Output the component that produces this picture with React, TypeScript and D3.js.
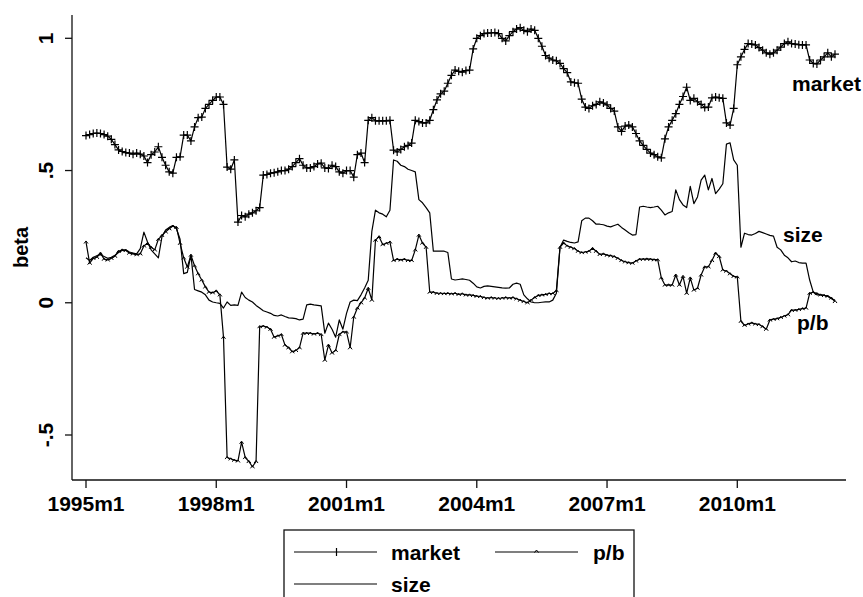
import React from "react";
import * as d3 from "d3";

// Monthly betas, 1995m1 .. 2012m4 (208 months)
const market: number[] = [
  0.632,0.636,0.640,0.642,0.640,0.636,0.630,0.618,0.598,0.578,
  0.572,0.568,0.566,0.562,0.566,0.562,0.555,0.530,0.560,0.570,
  0.590,0.550,0.520,0.495,0.490,0.550,0.552,0.634,0.634,0.612,
  0.665,0.700,0.702,0.735,0.750,0.765,0.778,0.778,0.750,0.513,
  0.505,0.540,0.305,0.330,0.325,0.335,0.340,0.348,0.360,0.483,
  0.485,0.490,0.492,0.495,0.500,0.500,0.505,0.515,0.530,0.545,
  0.520,0.510,0.510,0.515,0.525,0.528,0.510,0.508,0.520,0.515,
  0.495,0.490,0.500,0.500,0.475,0.560,0.566,0.530,0.690,0.700,
  0.688,0.688,0.688,0.688,0.690,0.577,0.570,0.580,0.590,0.595,
  0.604,0.690,0.685,0.680,0.680,0.690,0.730,0.767,0.790,0.800,
  0.830,0.860,0.880,0.875,0.872,0.878,0.880,0.960,1.000,1.010,
  1.018,1.020,1.020,1.022,1.018,1.000,0.990,1.010,1.025,1.035,
  1.040,1.030,1.025,1.035,1.030,1.000,0.970,0.935,0.925,0.918,
  0.915,0.905,0.885,0.870,0.835,0.832,0.830,0.770,0.740,0.735,
  0.745,0.750,0.760,0.755,0.748,0.735,0.725,0.665,0.648,0.668,
  0.672,0.665,0.640,0.612,0.595,0.580,0.566,0.560,0.552,0.548,
  0.620,0.665,0.690,0.715,0.750,0.780,0.815,0.765,0.773,0.760,
  0.750,0.738,0.740,0.775,0.778,0.775,0.773,0.680,0.672,0.735,
  0.900,0.930,0.958,0.980,0.978,0.975,0.965,0.955,0.945,0.940,
  0.945,0.955,0.967,0.980,0.987,0.980,0.978,0.976,0.975,0.975,
  0.918,0.905,0.903,0.918,0.930,0.945,0.930,0.940,
];

const pb: number[] = [
  0.230,0.150,0.168,0.172,0.188,0.165,0.162,0.168,0.176,0.195,
  0.200,0.198,0.188,0.185,0.182,0.185,0.215,0.225,0.210,0.200,
  0.240,0.255,0.268,0.280,0.290,0.285,0.225,0.170,0.135,0.180,
  0.140,0.110,0.086,0.060,0.040,0.038,0.045,0.030,-0.130,-0.585,
  -0.590,-0.595,-0.598,-0.527,-0.585,-0.600,-0.620,-0.600,-0.090,-0.088,
  -0.092,-0.100,-0.130,-0.125,-0.120,-0.160,-0.170,-0.185,-0.180,-0.170,
  -0.115,-0.115,-0.115,-0.118,-0.115,-0.120,-0.217,-0.160,-0.190,-0.180,
  -0.120,-0.110,-0.110,-0.170,-0.054,-0.020,0.000,0.018,0.055,0.010,
  0.237,0.250,0.220,0.225,0.230,0.160,0.165,0.162,0.165,0.160,
  0.160,0.200,0.256,0.226,0.210,0.040,0.040,0.036,0.036,0.035,
  0.036,0.034,0.036,0.032,0.034,0.030,0.030,0.028,0.025,0.024,
  0.020,0.018,0.020,0.018,0.017,0.018,0.020,0.018,0.020,0.015,
  0.010,0.005,0.000,0.010,0.020,0.028,0.030,0.032,0.035,0.035,
  0.046,0.210,0.226,0.215,0.210,0.205,0.195,0.190,0.192,0.195,
  0.206,0.195,0.183,0.185,0.180,0.178,0.175,0.168,0.160,0.155,
  0.152,0.150,0.158,0.165,0.165,0.166,0.165,0.163,0.163,0.094,
  0.067,0.068,0.067,0.105,0.067,0.100,0.036,0.094,0.048,0.055,
  0.105,0.136,0.136,0.160,0.188,0.175,0.124,0.120,0.110,0.100,
  0.098,-0.070,-0.085,-0.080,-0.076,-0.080,-0.082,-0.090,-0.100,-0.065,
  -0.062,-0.060,-0.055,-0.050,-0.045,-0.028,-0.028,-0.025,-0.022,-0.020,
  0.036,0.040,0.035,0.030,0.028,0.025,0.018,0.005,
];

const size: number[] = [
  0.170,0.160,0.172,0.178,0.182,0.175,0.168,0.172,0.180,0.190,
  0.198,0.200,0.192,0.188,0.185,0.205,0.267,0.230,0.200,0.185,
  0.170,0.250,0.275,0.285,0.292,0.280,0.240,0.110,0.115,0.180,
  0.050,0.045,0.040,0.030,0.010,0.003,0.000,-0.002,-0.020,0.003,
  -0.010,-0.008,-0.010,0.040,0.020,0.010,0.003,-0.010,-0.020,-0.030,
  -0.035,-0.040,-0.048,-0.050,-0.046,-0.052,-0.057,-0.058,-0.060,-0.065,
  -0.062,-0.008,-0.005,-0.008,-0.010,-0.012,-0.115,-0.077,-0.100,-0.130,
  -0.065,-0.100,-0.040,0.003,0.010,0.008,0.030,0.056,0.085,0.270,
  0.350,0.340,0.335,0.325,0.350,0.540,0.535,0.520,0.515,0.505,
  0.500,0.495,0.390,0.378,0.360,0.340,0.195,0.195,0.195,0.195,
  0.190,0.090,0.086,0.088,0.090,0.088,0.085,0.074,0.060,0.056,
  0.062,0.064,0.062,0.060,0.058,0.056,0.055,0.056,0.070,0.074,
  0.070,0.030,0.015,0.003,0.000,0.000,0.002,0.003,0.003,0.010,
  0.036,0.210,0.237,0.232,0.228,0.226,0.230,0.310,0.320,0.320,
  0.310,0.297,0.297,0.295,0.290,0.287,0.292,0.297,0.285,0.275,
  0.265,0.256,0.258,0.362,0.365,0.362,0.360,0.362,0.365,0.350,
  0.332,0.340,0.345,0.427,0.390,0.370,0.360,0.440,0.375,0.400,
  0.464,0.483,0.427,0.470,0.413,0.430,0.450,0.600,0.605,0.540,
  0.520,0.210,0.263,0.258,0.256,0.262,0.270,0.265,0.260,0.255,
  0.252,0.210,0.200,0.180,0.170,0.155,0.158,0.152,0.150,0.150,
  0.086,0.040,0.030,0.030,0.028,0.025,0.015,0.010,
];

const xTickMonths: number[] = [0, 36, 72, 108, 144, 180];
const xTickLabels: string[] = ["1995m1", "1998m1", "2001m1", "2004m1", "2007m1", "2010m1"];
const yTickValues: number[] = [-0.5, 0, 0.5, 1];
const yTickLabels: string[] = ["-.5", "0", ".5", "1"];

const W = 863;
const H = 597;
const FONT = "'Liberation Sans', Arial, Helvetica, sans-serif";

export default function App() {
  const x = d3.scaleLinear().domain([0, 180]).range([86, 737.3]);
  const y = d3.scaleLinear().domain([-0.5, 1]).range([435, 38.3]);
  const left = 72, right = 846, top = 15, bottom = 480;

  const line = d3
    .line<number>()
    .x((_, i) => x(i))
    .y((d) => y(d));

  const plus = "M-4,0H4M0,-4V4";
  const chevron = "M-2,1.6L0,-1L2,1.6";

  return (
    <svg
      width={W}
      height={H}
      viewBox={`0 0 ${W} ${H}`}
      style={{ position: "absolute", left: 0, top: 0, background: "#fff" }}
      fontFamily={FONT}
      fontWeight="bold"
    >
      <rect x={0} y={0} width={W} height={H} fill="#fff" />
      {/* series */}
      <path d={line(size) || ""} fill="none" stroke="#000" strokeWidth={1.2} strokeLinejoin="round" />
      <path d={line(pb) || ""} fill="none" stroke="#000" strokeWidth={1.2} strokeLinejoin="round" />
      {pb.map((v, i) => (
        <path key={"pb" + i} d={chevron} transform={`translate(${x(i)},${y(v)})`} fill="none" stroke="#000" strokeWidth={1} />
      ))}
      <path d={line(market) || ""} fill="none" stroke="#000" strokeWidth={1.2} strokeLinejoin="round" />
      {market.map((v, i) => (
        <path key={"mk" + i} d={plus} transform={`translate(${x(i)},${y(v)})`} fill="none" stroke="#000" strokeWidth={1.2} />
      ))}

      {/* end labels */}
      <text x={792} y={91} fontSize={21}>market</text>
      <text x={783} y={242} fontSize={21}>size</text>
      <text x={797} y={330} fontSize={21}>p/b</text>

      {/* axes */}
      <line x1={left} x2={left} y1={top} y2={bottom} stroke="#111" strokeWidth={1.3} />
      <line x1={left} x2={right} y1={bottom} y2={bottom} stroke="#111" strokeWidth={1.3} />
      {yTickValues.map((v, i) => (
        <g key={"yt" + i}>
          <line x1={left - 7} x2={left} y1={y(v)} y2={y(v)} stroke="#111" strokeWidth={1.3} />
          <text transform={`translate(53,${y(v)}) rotate(-90)`} textAnchor="middle" fontSize={21}>
            {yTickLabels[i]}
          </text>
        </g>
      ))}
      {xTickMonths.map((m, i) => (
        <g key={"xt" + i}>
          <line x1={x(m)} x2={x(m)} y1={bottom} y2={bottom + 8} stroke="#111" strokeWidth={1.3} />
          <text x={x(m)} y={511} textAnchor="middle" fontSize={21}>
            {xTickLabels[i]}
          </text>
        </g>
      ))}
      <text transform={`translate(28,247.5) rotate(-90)`} textAnchor="middle" fontSize={20}>
        beta
      </text>

      {/* legend */}
      <rect x={284} y={530} width={350} height={80} fill="#fff" stroke="#111" strokeWidth={1.3} />
      <line x1={294} x2={377} y1={552} y2={552} stroke="#000" strokeWidth={1.2} />
      <path d="M0,-4V4" transform="translate(336.5,552)" stroke="#000" strokeWidth={1.2} />
      <text x={391} y={560} fontSize={21}>market</text>
      <line x1={495} x2={578} y1={552} y2={552} stroke="#000" strokeWidth={1.2} />
      <path d={chevron} transform="translate(536.5,551)" fill="none" stroke="#000" strokeWidth={1} />
      <text x={593} y={560} fontSize={21}>p/b</text>
      <line x1={294} x2={377} y1={584} y2={584} stroke="#000" strokeWidth={1.2} />
      <text x={391} y={592} fontSize={21}>size</text>
    </svg>
  );
}
